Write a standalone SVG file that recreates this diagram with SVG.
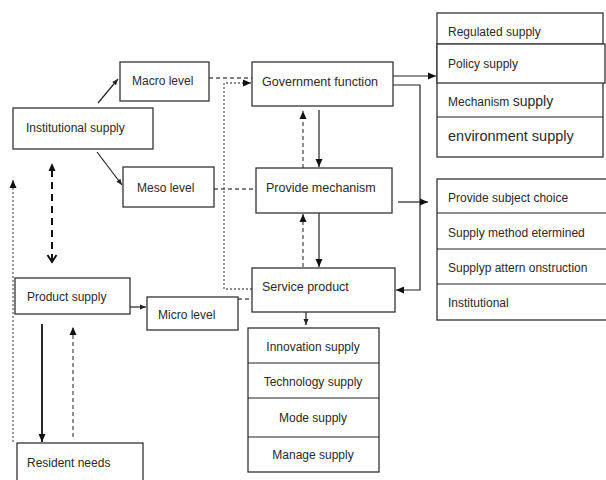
<svg xmlns="http://www.w3.org/2000/svg" width="606" height="480" viewBox="0 0 606 480">
<defs>
<style>
.box{fill:#fff;stroke:#333;stroke-width:1.3}
.t{font-family:"Liberation Sans",Arial,sans-serif;font-size:12px;fill:#2a2a2a}
.c{text-anchor:middle}
.s{fill:none;stroke:#222;stroke-width:1.2}
.d{fill:none;stroke:#555;stroke-width:1.3;stroke-dasharray:4 3}
.dt{fill:none;stroke:#666;stroke-width:1.3;stroke-dasharray:2 2}
</style>
<marker id="a" markerUnits="userSpaceOnUse" markerWidth="10" markerHeight="10" refX="9" refY="5" orient="auto">
<path d="M1,1.5 L9,5 L1,8.5 Z" fill="#111"/>
</marker>
<marker id="as" markerUnits="userSpaceOnUse" markerWidth="8" markerHeight="8" refX="7" refY="4" orient="auto">
<path d="M1,1.5 L7,4 L1,6.5 Z" fill="#222"/>
</marker>
<marker id="ch" markerUnits="userSpaceOnUse" markerWidth="12" markerHeight="12" refX="9" refY="6" orient="auto">
<path d="M2,1.5 L9,6 L2,10.5" fill="none" stroke="#111" stroke-width="2"/>
</marker>
</defs>

<g id="connectors">
<line class="s" x1="98" y1="103" x2="118" y2="79" marker-end="url(#as)"/>
<line class="s" x1="97" y1="152" x2="122" y2="185" marker-end="url(#as)"/>
<line class="d" x1="209" y1="78" x2="252" y2="78"/>
<polyline class="dt" points="252,289 224,289 224,83 251,83" marker-end="url(#a)"/>
<line class="d" x1="214" y1="189" x2="256" y2="189"/>
<line class="d" x1="238" y1="299" x2="252" y2="299"/>
<line class="s" x1="319" y1="110" x2="319" y2="167" marker-end="url(#a)"/>
<line class="d" x1="303" y1="168" x2="303" y2="111" marker-end="url(#a)"/>
<line class="s" x1="319" y1="213" x2="319" y2="267" marker-end="url(#a)"/>
<line class="d" x1="303" y1="267" x2="303" y2="214" marker-end="url(#a)"/>
<line class="s" x1="393" y1="76" x2="436" y2="76" marker-end="url(#a)"/>
<polyline class="s" points="393,85 420,85 420,290 396,290" marker-end="url(#a)"/>
<line class="s" x1="398" y1="202" x2="428" y2="202" marker-end="url(#a)"/>
<line class="s" x1="306" y1="312" x2="306" y2="325" marker-end="url(#as)"/>
<line class="s" x1="130" y1="307" x2="146" y2="307" marker-end="url(#as)"/>
<line fill="none" stroke="#111" stroke-width="1.8" x1="42" y1="324" x2="42" y2="442" marker-end="url(#a)"/>
<line class="d" x1="73" y1="437" x2="73" y2="327" marker-end="url(#a)"/>
<line class="dt" x1="13" y1="442" x2="13" y2="180" marker-end="url(#a)"/>
<line fill="none" stroke="#111" stroke-width="2" stroke-dasharray="7 5" x1="52" y1="170" x2="52" y2="262" marker-end="url(#ch)"/>
<path d="M52,163 L48.5,171 L55.5,171 Z" fill="#111"/>
</g>

<g id="institutional"><rect class="box" x="13" y="108" width="140" height="41"/><text class="t" x="26" y="132">Institutional supply</text></g>
<g id="macro"><rect class="box" x="120" y="62" width="89" height="39"/><text class="t" x="132" y="85">Macro level</text></g>
<g id="meso"><rect class="box" x="123" y="167" width="91" height="40"/><text class="t" x="137" y="192">Meso level</text></g>
<g id="government"><rect class="box" x="252" y="62" width="141" height="44"/><text class="t" x="262" y="86" style="font-size:12.5px">Government function</text></g>
<g id="mechanism"><rect class="box" x="256" y="168" width="136" height="45"/><text class="t" x="266" y="192" style="font-size:12.5px">Provide mechanism</text></g>
<g id="service"><rect class="box" x="252" y="268" width="143" height="44"/><text class="t" x="262" y="291" style="font-size:12.5px">Service product</text></g>
<g id="product"><rect class="box" x="15" y="278" width="115" height="36"/><text class="t" x="27" y="301">Product supply</text></g>
<g id="micro"><rect class="box" x="147" y="297" width="91" height="33"/><text class="t" x="158" y="319">Micro level</text></g>
<g id="resident"><rect class="box" x="17" y="443" width="126" height="42"/><text class="t" x="27" y="467">Resident needs</text></g>

<g id="supply-types">
<rect class="box" x="437" y="13" width="166" height="144"/>
<line class="s" x1="437" y1="44" x2="603" y2="44"/>
<rect class="box" x="437" y="44" width="168" height="39"/>
<line class="s" x1="437" y1="117" x2="603" y2="117"/>
<text class="t" x="448" y="36">Regulated supply</text>
<text class="t" x="448" y="68">Policy supply</text>
<text class="t" x="448" y="106">Mechanism <tspan style="font-size:14px">supply</tspan></text>
<text class="t" x="448" y="141" style="font-size:14.5px">environment supply</text>
</g>

<g id="mechanism-items">
<rect class="box" x="437" y="179" width="172" height="141"/>
<line class="s" x1="437" y1="213" x2="606" y2="213"/>
<line class="s" x1="437" y1="249" x2="606" y2="249"/>
<line class="s" x1="437" y1="284" x2="606" y2="284"/>
<text class="t" x="448" y="202">Provide subject choice</text>
<text class="t" x="448" y="237">Supply method etermined</text>
<text class="t" x="448" y="272">Supplyp attern onstruction</text>
<text class="t" x="448" y="307">Institutional</text>
</g>

<g id="service-items">
<rect class="box" x="248" y="328" width="131" height="144"/>
<line class="s" x1="248" y1="363" x2="379" y2="363"/>
<line class="s" x1="248" y1="398" x2="379" y2="398"/>
<line class="s" x1="248" y1="437" x2="379" y2="437"/>
<text class="t c" x="313" y="351">Innovation supply</text>
<text class="t c" x="313" y="386">Technology supply</text>
<text class="t c" x="313" y="422">Mode supply</text>
<text class="t c" x="313" y="459">Manage supply</text>
</g>
</svg>
